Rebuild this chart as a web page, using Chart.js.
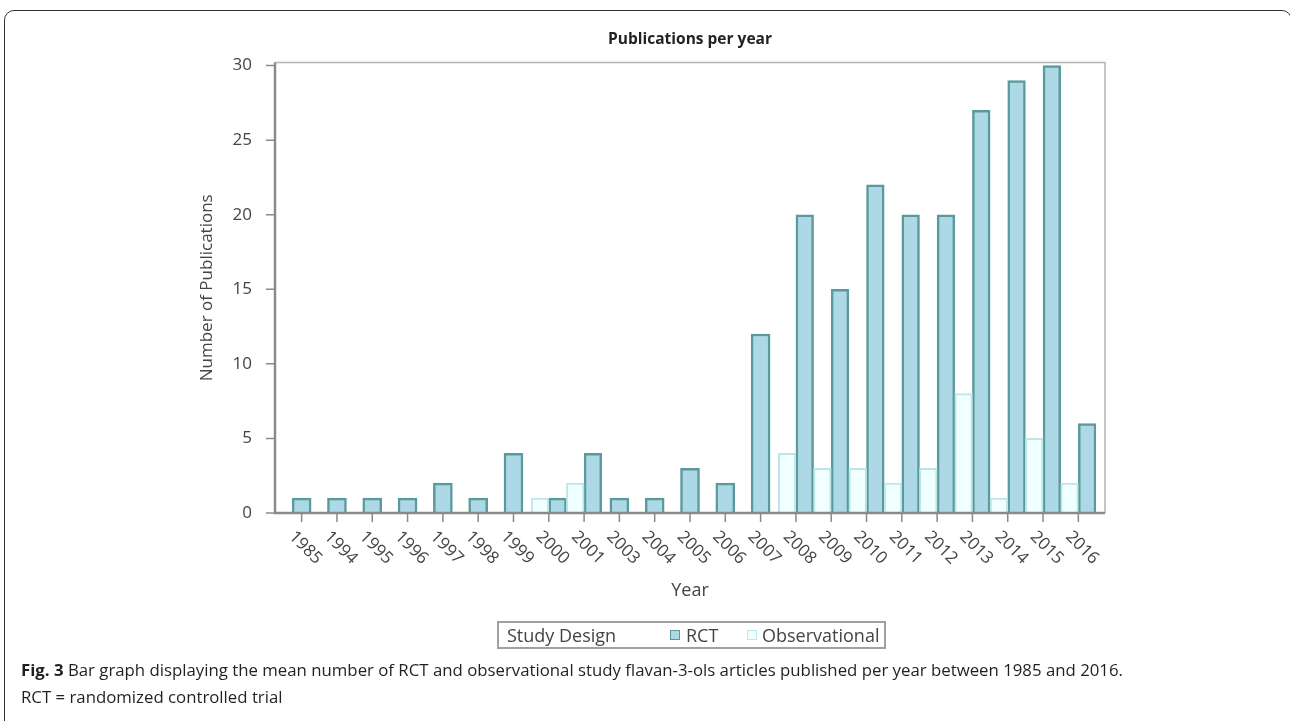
<!DOCTYPE html>
<html>
<head>
<meta charset="utf-8">
<title>Publications per year</title>
<script src="https://cdn.jsdelivr.net/npm/chart.js@4/dist/chart.umd.min.js"></script>
<style>
    body {
        margin: 0;
        background: #fff;
        font-family: "Open Sans", sans-serif;
        overflow: hidden;
    }
    .figure-box {
        position: absolute;
        left: 4px;
        top: 10px;
        width: 1288px;
        height: 740px;
        box-sizing: border-box;
        border: 1.5px solid #333;
        border-radius: 10px;
    }
    #pubChart {
        position: absolute;
        left: 0;
        top: 0;
    }
    .legend-box {
        position: absolute;
        left: 497px;
        top: 621px;
        width: 389px;
        height: 28px;
        box-sizing: border-box;
        border: 2px solid #a0a0a0;
        font-size: 18px;
        color: #444;
    }
    .legend-box span {
        position: absolute;
        top: 50%;
        transform: translateY(-50%);
        white-space: nowrap;
    }
    .legend-box .swatch {
        width: 8px;
        height: 8px;
        border: 1px solid;
    }
    .caption {
        position: absolute;
        left: 21px;
        top: 656px;
        width: 1250px;
        font-size: 16.8px;
        line-height: 27px;
        color: #231f20;
    }
</style>
</head>
<body>
<div class="figure-box"></div>
<canvas id="pubChart" width="1290" height="721"></canvas>
<div class="legend-box" id="legend"></div>
<div class="caption"><b>Fig. 3</b> Bar graph displaying the mean number of RCT and observational study flavan-3-ols articles published per year between 1985 and 2016.<br>RCT = randomized controlled trial</div>

<script>
// Data (2002 has no publications, so it is not a category)
const years = ['1985', '1994', '1995', '1996', '1997', '1998', '1999', '2000', '2001', '2003', '2004',
    '2005', '2006', '2007', '2008', '2009', '2010', '2011', '2012', '2013', '2014', '2015', '2016'];
const rctCounts = [1, 1, 1, 1, 2, 1, 4, 1, 4, 1, 1, 3, 2, 12, 20, 15, 22, 20, 20, 27, 29, 30, 6];
const obsCounts = [null, null, null, null, null, null, null, 1, 2, null, null, null, null, null,
    4, 3, 3, 2, 3, 8, 1, 5, 2];

const rctFill = '#add8e6';
const rctLine = '#5a9a9c';
const obsFill = '#f0ffff';
const obsLine = '#bfe6e6';

// the SAS frame sits a little outside the category range
const frameGap = 9;

// Frame, tick marks and rotated year labels
const framePlugin = {
    id: 'sasFrame',
    afterDatasetsDraw(chart) {
        const ctx = chart.ctx;
        const area = chart.chartArea;
        const xScale = chart.scales.x;
        const yScale = chart.scales.y;
        const left = area.left - frameGap;
        const right = area.right + frameGap;

        ctx.save();
        // top and right edges
        ctx.strokeStyle = '#b4b4b4';
        ctx.lineWidth = 1.5;
        ctx.beginPath();
        ctx.moveTo(left, area.top);
        ctx.lineTo(right, area.top);
        ctx.lineTo(right, area.bottom);
        ctx.stroke();

        // axis lines
        ctx.strokeStyle = '#8a8a8a';
        ctx.lineWidth = 2.5;
        ctx.beginPath();
        ctx.moveTo(left, area.top);
        ctx.lineTo(left, area.bottom);
        ctx.lineTo(right, area.bottom);
        ctx.stroke();

        // tick marks
        ctx.lineWidth = 1.5;
        ctx.beginPath();
        yScale.ticks.forEach(t => {
            const y = yScale.getPixelForValue(t.value);
            ctx.moveTo(left - 9, y);
            ctx.lineTo(left, y);
        });
        years.forEach((label, i) => {
            const x = xScale.getPixelForValue(i);
            ctx.moveTo(x, area.bottom);
            ctx.lineTo(x, area.bottom + 9);
        });
        ctx.stroke();

        // year labels, rotated 45 degrees down to the right
        ctx.fillStyle = '#444';
        ctx.font = '17px "Open Sans"';
        ctx.textAlign = 'left';
        ctx.textBaseline = 'middle';
        years.forEach((label, i) => {
            const x = xScale.getPixelForValue(i);
            ctx.save();
            ctx.translate(x - 10, area.bottom + 21);
            ctx.rotate(Math.PI / 4);
            ctx.fillText(label, 0, 0);
            ctx.restore();
        });
        ctx.restore();
    }
};

const chart = new Chart(document.getElementById('pubChart'), {
    type: 'bar',
    data: {
        labels: years,
        datasets: [
            {
                label: 'Observational',
                data: obsCounts,
                backgroundColor: obsFill,
                borderColor: obsLine,
                borderWidth: 2,
                skipNull: true
            },
            {
                label: 'RCT',
                data: rctCounts,
                backgroundColor: rctFill,
                borderColor: rctLine,
                borderWidth: 2.5,
                skipNull: true
            }
        ]
    },
    options: {
        responsive: false,
        animation: false,
        devicePixelRatio: 1,
        categoryPercentage: 1,
        barPercentage: 1,
        maxBarThickness: 19,
        layout: {
            padding: { left: 193, right: 194, top: 0, bottom: 0 }
        },
        scales: {
            x: {
                grid: { display: false },
                border: { display: false },
                ticks: { display: false },
                title: {
                    display: true,
                    text: 'Year',
                    color: '#444',
                    font: { family: 'Open Sans', size: 18 },
                    padding: { top: 0, bottom: 119 }
                },
                afterFit(scale) {
                    scale.height = 208;
                }
            },
            y: {
                min: 0,
                max: 30.2,
                grid: { display: false },
                border: { display: false },
                ticks: {
                    stepSize: 5,
                    includeBounds: false,
                    padding: 24,
                    color: '#444',
                    font: { family: 'Open Sans', size: 17 }
                },
                title: {
                    display: true,
                    text: 'Number of Publications',
                    color: '#444',
                    font: { family: 'Open Sans', size: 17 },
                    padding: { top: 4, bottom: 0 }
                },
                afterFit(scale) {
                    scale.width = 91;
                }
            }
        },
        plugins: {
            legend: { display: false },
            tooltip: { enabled: false },
            title: {
                display: true,
                fullSize: false,
                text: 'Publications per year',
                color: '#222',
                font: { family: 'Open Sans', size: 15.5, weight: 'bold' },
                padding: { top: 30, bottom: 14 }
            }
        }
    },
    plugins: [framePlugin]
});

// Legend box with "Study Design" heading, built from the datasets
const legend = document.getElementById('legend');
const legendSpots = { RCT: [171, 187], Observational: [248, 263] };
legend.innerHTML = '<span style="left:8px">Study Design</span>';
['RCT', 'Observational'].forEach(name => {
    const ds = chart.data.datasets.find(d => d.label === name);
    const spot = legendSpots[name];
    legend.innerHTML += '<span class="swatch" style="left:' + spot[0] + 'px;background:' + ds.backgroundColor +
        ';border-color:' + ds.borderColor + '"></span>' +
        '<span style="left:' + spot[1] + 'px">' + name + '</span>';
});
</script>
</body>
</html>
